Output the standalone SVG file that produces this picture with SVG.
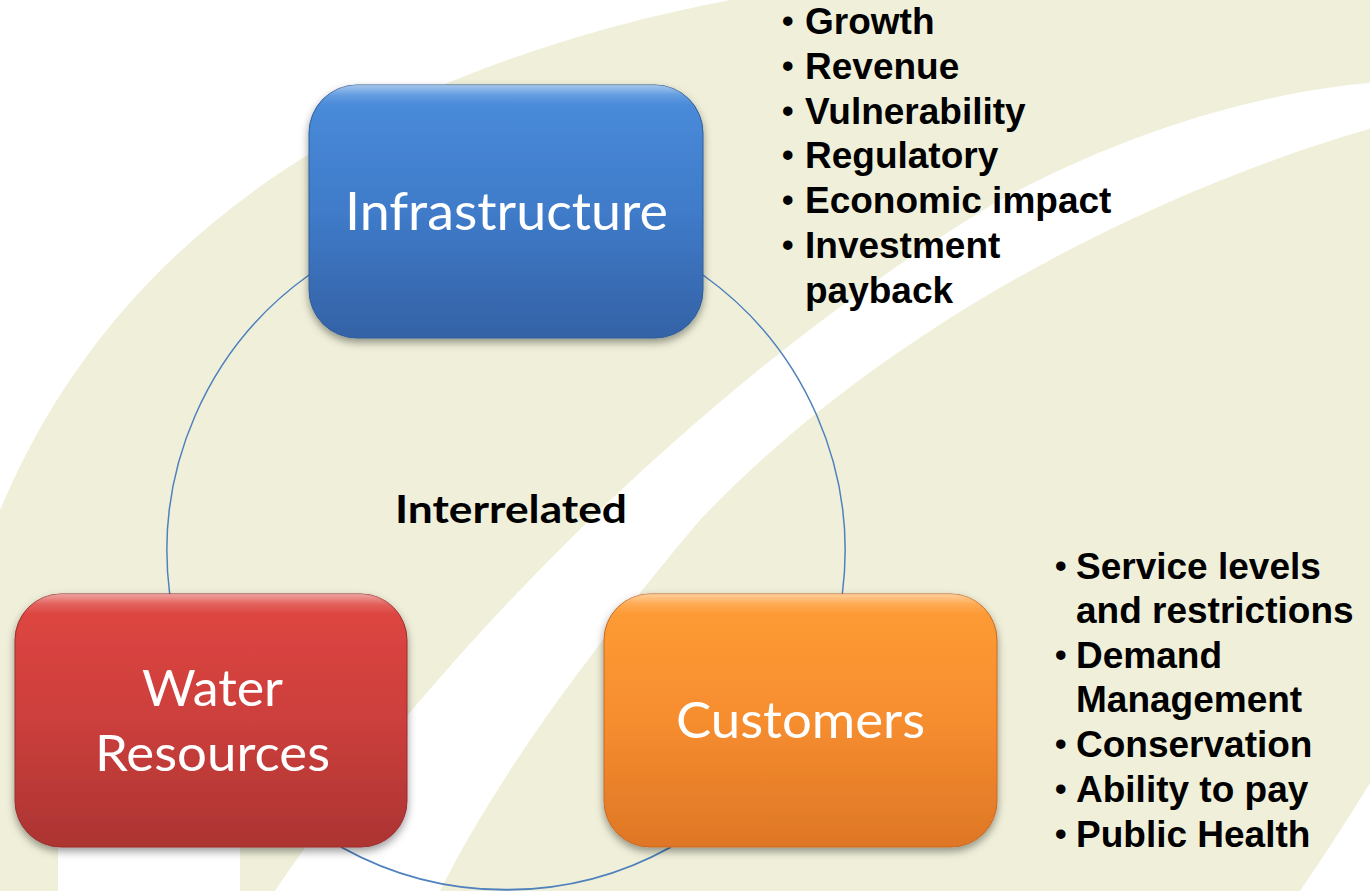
<svg xmlns="http://www.w3.org/2000/svg" width="1370" height="891" viewBox="0 0 1370 891">
<defs>
<linearGradient id="gBlue" x1="0" y1="0" x2="0" y2="1"><stop offset="0" stop-color="#4A8DDC"/><stop offset="0.5" stop-color="#3F7BC9"/><stop offset="1" stop-color="#3462A6"/></linearGradient>
<linearGradient id="gRed" x1="0" y1="0" x2="0" y2="1"><stop offset="0" stop-color="#E04641"/><stop offset="0.5" stop-color="#CC3F3C"/><stop offset="1" stop-color="#AC3432"/></linearGradient>
<linearGradient id="gOrg" x1="0" y1="0" x2="0" y2="1"><stop offset="0" stop-color="#FF9D35"/><stop offset="0.5" stop-color="#F68D2F"/><stop offset="1" stop-color="#DE7626"/></linearGradient>
<linearGradient id="gHi" x1="0" y1="0" x2="0" y2="1"><stop offset="0" stop-color="#fff" stop-opacity="0.5"/><stop offset="0.04" stop-color="#fff" stop-opacity="0.15"/><stop offset="0.08" stop-color="#fff" stop-opacity="0"/></linearGradient>
<filter id="sh" x="-10%" y="-10%" width="120%" height="130%"><feDropShadow dx="0" dy="4" stdDeviation="4" flood-color="#000" flood-opacity="0.4"/></filter>
</defs>
<style>
.lbl{font-family:Lato,"Open Sans",sans-serif;fill:#fff}
.bl{font-family:"Liberation Sans",Arial,sans-serif;font-weight:bold;font-size:37px;fill:#000}
.bu{font-size:33px}
.arc{fill:none;stroke:#4F81BD;stroke-width:1.5}
.hi{fill:url(#gHi)}
</style>
<g id="background">
<rect x="0" y="0" width="1370" height="891" fill="#fff"/>
<path d="M730 0 C420 60 130 200 0 510 L0 891 L1300 891 Q1335 840 1370 783 L1370 0 Z" fill="#F0F0DA"/>
<path d="M275 891 C430 660 700 380 1000 200 C1150 120 1280 90 1380 82 L1380 126 C1150 190 880 330 700 520 C590 650 495 780 440 891 Z" fill="#fff"/>
<rect x="58" y="700" width="182" height="191" fill="#fff"/>
</g>
<g id="connectors">
<path class="arc" d="M309 275 A339 339 0 0 0 169.7 594"/>
<path class="arc" d="M341 847 A339 339 0 0 0 671 847" style="stroke-width:2"/>
<path class="arc" d="M842.3 594 A339 339 0 0 0 703 275"/>
</g>
<g id="node-infrastructure">
<rect x="309" y="85" width="394" height="253" rx="48" fill="url(#gBlue)" stroke="#2F5C9A" stroke-width="1" filter="url(#sh)"/>
<rect x="309" y="85" width="394" height="253" rx="48" class="hi"/>
<text class="lbl" x="345" y="229.5" font-size="52" textLength="323" lengthAdjust="spacingAndGlyphs">Infrastructure</text>
</g>
<g id="node-water-resources">
<rect x="15" y="594" width="392" height="253" rx="46" fill="url(#gRed)" stroke="#9A2E2C" stroke-width="1" filter="url(#sh)"/>
<rect x="15" y="594" width="392" height="253" rx="46" class="hi"/>
<text class="lbl" x="142" y="706" font-size="50" textLength="141" lengthAdjust="spacingAndGlyphs">Water</text>
<text class="lbl" x="95" y="771" font-size="50" textLength="235" lengthAdjust="spacingAndGlyphs">Resources</text>
</g>
<g id="node-customers">
<rect x="604" y="594" width="393" height="253" rx="46" fill="url(#gOrg)" stroke="#C86A22" stroke-width="1" filter="url(#sh)"/>
<rect x="604" y="594" width="393" height="253" rx="46" class="hi"/>
<text class="lbl" x="676" y="738" font-size="50" textLength="249" lengthAdjust="spacingAndGlyphs">Customers</text>
</g>
<g id="label-interrelated">
<text x="395" y="523" font-family="Lato,'Open Sans',sans-serif" font-weight="bold" font-size="39" fill="#000" textLength="232" lengthAdjust="spacingAndGlyphs">Interrelated</text>
</g>
<g id="list-infrastructure" class="bl">
<text class="bu" x="782" y="32">•</text><text x="805" y="34">Growth</text>
<text class="bu" x="782" y="77">•</text><text x="805" y="79">Revenue</text>
<text class="bu" x="782" y="122">•</text><text x="805" y="124">Vulnerability</text>
<text class="bu" x="782" y="166">•</text><text x="805" y="168">Regulatory</text>
<text class="bu" x="782" y="211">•</text><text x="805" y="213">Economic impact</text>
<text class="bu" x="782" y="256">•</text><text x="805" y="258">Investment</text>
<text x="805" y="303">payback</text>
</g>
<g id="list-customers" class="bl">
<text class="bu" x="1055" y="577">•</text><text x="1076" y="579">Service levels</text>
<text x="1076" y="623">and restrictions</text>
<text class="bu" x="1055" y="666">•</text><text x="1076" y="668">Demand</text>
<text x="1076" y="712">Management</text>
<text class="bu" x="1055" y="755">•</text><text x="1076" y="757">Conservation</text>
<text class="bu" x="1055" y="800">•</text><text x="1076" y="802">Ability to pay</text>
<text class="bu" x="1055" y="845">•</text><text x="1076" y="847">Public Health</text>
</g>
</svg>
